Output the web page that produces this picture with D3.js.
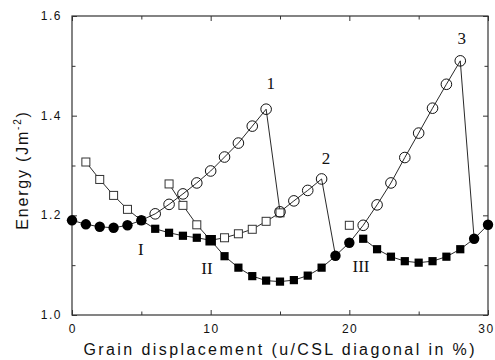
<!DOCTYPE html>
<html lang="en">
<head>
    <meta charset="UTF-8">
    <title>Grain boundary energy vs displacement</title>
    <script src="https://d3js.org/d3.v7.min.js"></script>
    <style>
        body { margin: 0; background: #fff; }
        .tick-label { font-family: "Liberation Sans", Arial, sans-serif; font-size: 12px; letter-spacing: 1.5px; fill: #111; }
        .axis-title { font-family: "Liberation Sans", Arial, sans-serif; font-size: 16px; fill: #111; }
        .note { font-family: "Liberation Serif", "Times New Roman", serif; font-size: 17px; fill: #111; }
    </style>
</head>
<body>
    <svg id="chart" width="495" height="360"></svg>

    <script>
        // main path (filled circles + open circles), x = 0..30
        const mainX = [0, 1, 2, 3, 4, 5, 6, 7, 8, 9, 10, 11, 12, 13, 14, 15, 16, 17, 18, 19, 20, 21, 22, 23, 24, 25, 26, 27, 28, 29, 30];
        const mainY = [1.190, 1.182, 1.177, 1.175, 1.180, 1.190, 1.203, 1.222, 1.243, 1.265, 1.289, 1.317, 1.345, 1.379, 1.413,
                       1.207, 1.229, 1.250, 1.273, 1.119, 1.145, 1.180, 1.221, 1.265, 1.316, 1.365, 1.415, 1.463, 1.510, 1.153, 1.181];
        // which points of the main path are filled circles
        const filledCircleX = [0, 1, 2, 3, 4, 5, 19, 20, 29, 30];

        // filled squares, first valley (ends on filled circle at 19)
        const sqAX = [5, 6, 7, 8, 9, 10, 11, 12, 13, 14, 15, 16, 17, 18, 19];
        const sqAY = [1.190, 1.173, 1.165, 1.159, 1.155, 1.150, 1.118, 1.095, 1.078, 1.069, 1.067, 1.070, 1.079, 1.095, 1.118];
        // filled squares, second valley (ends on filled circle at 29)
        const sqBX = [21, 22, 23, 24, 25, 26, 27, 28, 29];
        const sqBY = [1.153, 1.132, 1.117, 1.108, 1.105, 1.108, 1.117, 1.132, 1.153];

        // open squares
        const openAX = [1, 2, 3, 4, 5];
        const openAY = [1.307, 1.272, 1.240, 1.212, 1.190];
        const openBX = [7, 8, 9, 10];
        const openBY = [1.263, 1.220, 1.181, 1.150];
        const openCX = [10, 11, 12, 13, 14, 15];
        const openCY = [1.150, 1.155, 1.163, 1.172, 1.188, 1.205];
        const openDX = [20];
        const openDY = [1.180];

        const xTicks = [0, 10, 20, 30];
        const yTicks = [1.0, 1.2, 1.4, 1.6];

        const notes = [
            { t: "1", x: 14.33, y: 1.454 },
            { t: "2", x: 18.31, y: 1.304 },
            { t: "3", x: 28.10, y: 1.544 },
            { t: "I", x: 4.97, y: 1.120 },
            { t: "II", x: 9.73, y: 1.082 },
            { t: "III", x: 20.84, y: 1.087 }
        ];

        const svg = d3.select("#chart");
        const pLeft = 72, pRight = 488, pTop = 16, pBottom = 315;

        const x = d3.scaleLinear().domain([0, 30]).range([pLeft, pRight]);
        const y = d3.scaleLinear().domain([1.0, 1.6]).range([pBottom, pTop]);

        const zip = (xs, ys) => xs.map((v, i) => [v, ys[i]]);
        const line = d3.line().x(d => x(d[0])).y(d => y(d[1]));

        // frame
        svg.append("rect")
            .attr("x", pLeft).attr("y", pTop)
            .attr("width", pRight - pLeft).attr("height", pBottom - pTop)
            .attr("fill", "none").attr("stroke", "#333").attr("stroke-width", 1.2);

        // inward ticks on all four sides
        const inner = (g, gen, tf) => {
            g.attr("transform", tf).call(gen);
            g.select(".domain").remove();
            g.selectAll("line").attr("stroke", "#333");
            g.selectAll("text").remove();
        };
        const xMinor = [5, 15, 25];
        const yMinor = [1.1, 1.3, 1.5];
        svg.append("g").call(g => inner(g, d3.axisTop(x).tickValues(xTicks).tickSize(5), `translate(0,${pBottom})`));
        svg.append("g").call(g => inner(g, d3.axisTop(x).tickValues(xMinor).tickSize(3.5), `translate(0,${pBottom})`));
        svg.append("g").call(g => inner(g, d3.axisBottom(x).tickValues(xTicks).tickSize(5), `translate(0,${pTop})`));
        svg.append("g").call(g => inner(g, d3.axisBottom(x).tickValues(xMinor).tickSize(3.5), `translate(0,${pTop})`));
        svg.append("g").call(g => inner(g, d3.axisRight(y).tickValues(yTicks).tickSize(5), `translate(${pLeft},0)`));
        svg.append("g").call(g => inner(g, d3.axisRight(y).tickValues(yMinor).tickSize(3.5), `translate(${pLeft},0)`));
        svg.append("g").call(g => inner(g, d3.axisLeft(y).tickValues(yTicks).tickSize(5), `translate(${pRight},0)`));
        svg.append("g").call(g => inner(g, d3.axisLeft(y).tickValues(yMinor).tickSize(3.5), `translate(${pRight},0)`));

        // tick labels (the last one nudged in so it stays inside the page)
        svg.selectAll(".xl").data(xTicks).enter().append("text")
            .attr("class", "tick-label")
            .attr("x", d => x(d) + (d === 30 ? -1.5 : 0.75)).attr("y", pBottom + 18)
            .attr("text-anchor", "middle")
            .text(d => d);
        svg.selectAll(".yl").data(yTicks).enter().append("text")
            .attr("class", "tick-label")
            .attr("x", pLeft - 10).attr("y", d => y(d) + 4)
            .attr("text-anchor", "end")
            .text(d => d.toFixed(1));

        // axis titles
        svg.append("text")
            .attr("class", "axis-title")
            .attr("x", (pLeft + pRight) / 2 - 1).attr("y", 355)
            .attr("text-anchor", "middle")
            .attr("textLength", 391).attr("lengthAdjust", "spacing")
            .text("Grain displacement (u/CSL diagonal  in %)");

        const yt = svg.append("text")
            .attr("class", "axis-title")
            .attr("transform", "translate(28,170) rotate(-90)")
            .attr("text-anchor", "middle")
            .style("letter-spacing", "1.8px");
        yt.append("tspan").text("Energy (Jm");
        yt.append("tspan").attr("dy", -7).style("font-size", "10px").text("-2");
        yt.append("tspan").attr("dy", 7).text(")");

        // lines
        const paths = [
            zip(mainX, mainY), zip(sqAX, sqAY), zip(sqBX, sqBY),
            zip(openAX, openAY), zip(openBX, openBY), zip(openCX, openCY)
        ];
        svg.selectAll(".ln").data(paths).enter().append("path")
            .attr("d", line)
            .attr("fill", "none").attr("stroke", "#111").attr("stroke-width", 0.9);

        // open squares
        const openSq = [].concat(zip(openAX.slice(0, -1), openAY.slice(0, -1)), zip(openBX.slice(0, -1), openBY.slice(0, -1)),
            zip(openCX.slice(1), openCY.slice(1)), zip(openDX, openDY));
        svg.selectAll(".osq").data(openSq).enter().append("rect")
            .attr("x", d => x(d[0]) - 4).attr("y", d => y(d[1]) - 4)
            .attr("width", 8).attr("height", 8)
            .attr("fill", "#fff").attr("stroke", "#333").attr("stroke-width", 1);

        // open circles (line shows through)
        const mainPts = zip(mainX, mainY);
        svg.selectAll(".oc").data(mainPts.filter(d => !filledCircleX.includes(d[0]))).enter().append("circle")
            .attr("cx", d => x(d[0])).attr("cy", d => y(d[1])).attr("r", 5.3)
            .attr("fill", "none").attr("stroke", "#111").attr("stroke-width", 1);

        // filled circles
        svg.selectAll(".fc").data(mainPts.filter(d => filledCircleX.includes(d[0]))).enter().append("circle")
            .attr("cx", d => x(d[0])).attr("cy", d => y(d[1])).attr("r", 5.2)
            .attr("fill", "#000");

        // filled squares (the crossing at x = 10 is drawn larger)
        const filledSq = [].concat(zip(sqAX.slice(0, -1), sqAY.slice(0, -1)), zip(sqBX.slice(0, -1), sqBY.slice(0, -1)));
        svg.selectAll(".fsq").data(filledSq).enter().append("rect")
            .each(function (d) {
                const s = d[0] === 10 ? 10.5 : 8.2;
                d3.select(this)
                    .attr("x", x(d[0]) - s / 2).attr("y", y(d[1]) - s / 2)
                    .attr("width", s).attr("height", s);
            })
            .attr("fill", "#000");

        // annotations
        svg.selectAll(".note").data(notes).enter().append("text")
            .attr("class", "note")
            .attr("x", d => x(d.x)).attr("y", d => y(d.y))
            .attr("text-anchor", "middle")
            .text(d => d.t);
    </script>
</body>
</html>
